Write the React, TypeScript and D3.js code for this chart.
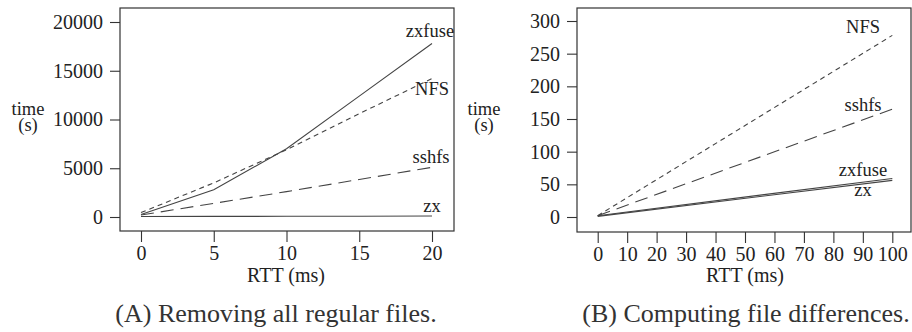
import { useRef, useEffect } from "react";
import * as d3 from "d3";

// Panel A: removing all regular files
const rttA = [0, 5, 10, 15, 20];
const zxfuseA = [250, 2800, 7000, 12400, 17800];
const nfsA = [450, 3500, 6900, 10600, 14200];
const sshfsA = [200, 1400, 2600, 3850, 5100];
const zxA = [50, 60, 70, 80, 100];
const ticksXA = [0, 5, 10, 15, 20];
const ticksYA = [0, 5000, 10000, 15000, 20000];

// Panel B: computing file differences
const rttB = [0, 100];
const nfsB = [2, 278];
const sshfsB = [2, 165];
const zxfuseB = [2, 59];
const zxB = [1, 56];
const ticksXB = [0, 10, 20, 30, 40, 50, 60, 70, 80, 90, 100];
const ticksYB = [0, 50, 100, 150, 200, 250, 300];

const FONT = "'Liberation Serif', serif";
const INK = "#333";

const App = () => {
  const svgRef = useRef<SVGSVGElement>(null);

  useEffect(() => {
    const svg = d3.select(svgRef.current);
    svg.selectAll("*").remove();

    const drawPanel = (opts: any) => {
      const g = svg.append("g").style("font-family", FONT);
      const x = d3.scaleLinear().domain(opts.xDomain).range(opts.xRange);
      const y = d3.scaleLinear().domain(opts.yDomain).range(opts.yRange);

      g.append("rect")
        .attr("x", opts.box[0])
        .attr("y", opts.box[1])
        .attr("width", opts.box[2] - opts.box[0])
        .attr("height", opts.box[3] - opts.box[1])
        .attr("fill", "none")
        .attr("stroke", INK)
        .attr("stroke-width", 1.2);

      const ay = g
        .append("g")
        .attr("transform", `translate(${opts.box[0]},0)`)
        .call(
          d3
            .axisLeft(y)
            .tickValues(opts.yTicks)
            .tickFormat(d3.format("d"))
            .tickSize(10)
            .tickPadding(opts.yPad)
        );
      const ax = g
        .append("g")
        .attr("transform", `translate(0,${opts.box[3]})`)
        .call(
          d3
            .axisBottom(x)
            .tickValues(opts.xTicks)
            .tickFormat(d3.format("d"))
            .tickSize(11)
            .tickPadding(4)
        );
      [ax, ay].forEach((a) => {
        a.attr("font-family", null).attr("font-size", null);
        a.select(".domain").remove();
        a.selectAll("line").attr("stroke", INK).attr("stroke-width", 1.1);
        a.selectAll("text")
          .style("font-family", FONT)
          .style("font-size", "20px")
          .attr("fill", "#222");
      });

      const line = d3
        .line<[number, number]>()
        .x((d) => x(d[0]))
        .y((d) => y(d[1]));

      opts.series.forEach((s: any) => {
        g.append("path")
          .datum(opts.xs.map((v: number, i: number) => [v, s.values[i]]))
          .attr("d", line)
          .attr("fill", "none")
          .attr("stroke", "#444")
          .attr("stroke-width", 1.1)
          .attr("stroke-dasharray", s.dash);
        g.append("text")
          .attr("x", s.label[0])
          .attr("y", s.label[1])
          .attr("text-anchor", "middle")
          .style("font-family", FONT)
          .style("font-size", "18.5px")
          .attr("fill", "#222")
          .text(s.name);
      });

      const t = g
        .append("text")
        .attr("text-anchor", "middle")
        .style("font-family", FONT)
        .style("font-size", "18.5px")
        .attr("fill", "#222");
      t.append("tspan").attr("x", opts.timeX).attr("y", 115).text("time");
      t.append("tspan").attr("x", opts.timeX).attr("y", 131).text("(s)");

      g.append("text")
        .attr("x", opts.rttX)
        .attr("y", 282)
        .attr("text-anchor", "middle")
        .style("font-family", FONT)
        .style("font-size", "20px")
        .attr("fill", "#222")
        .text("RTT (ms)");

      g.append("text")
        .attr("x", opts.capX)
        .attr("y", 322)
        .attr("text-anchor", "middle")
        .style("font-family", FONT)
        .style("font-size", "26px")
        .attr("fill", "#333")
        .text(opts.caption);
    };

    drawPanel({
      xDomain: [0, 20],
      xRange: [141, 432],
      yDomain: [0, 20000],
      yRange: [217, 22],
      box: [120, 8, 454, 231],
      xTicks: ticksXA,
      yTicks: ticksYA,
      yPad: 7,
      xs: rttA,
      series: [
        { name: "zxfuse", values: zxfuseA, dash: null, label: [430, 37] },
        { name: "NFS", values: nfsA, dash: "5,4", label: [432, 95] },
        { name: "sshfs", values: sshfsA, dash: "13,7", label: [431, 163] },
        { name: "zx", values: zxA, dash: null, label: [432, 212] },
      ],
      timeX: 28,
      rttX: 286,
      capX: 276,
      caption: "(A) Removing all regular files.",
    });

    drawPanel({
      xDomain: [0, 100],
      xRange: [597.7, 892.3],
      yDomain: [0, 300],
      yRange: [217, 21],
      box: [577, 8, 911, 232],
      xTicks: ticksXB,
      yTicks: ticksYB,
      yPad: 7,
      xs: rttB,
      series: [
        { name: "NFS", values: nfsB, dash: "5,4", label: [863, 33] },
        { name: "sshfs", values: sshfsB, dash: "13,7", label: [863, 111] },
        { name: "zxfuse", values: zxfuseB, dash: null, label: [863, 176] },
        { name: "zx", values: zxB, dash: null, label: [863, 196] },
      ],
      timeX: 484,
      rttX: 745,
      capX: 746,
      caption: "(B) Computing file differences.",
    });
  }, []);

  return (
    <svg
      ref={svgRef}
      width={912}
      height={332}
      style={{ position: "absolute", left: 0, top: 0, background: "#fff" }}
    ></svg>
  );
};

export default App;
